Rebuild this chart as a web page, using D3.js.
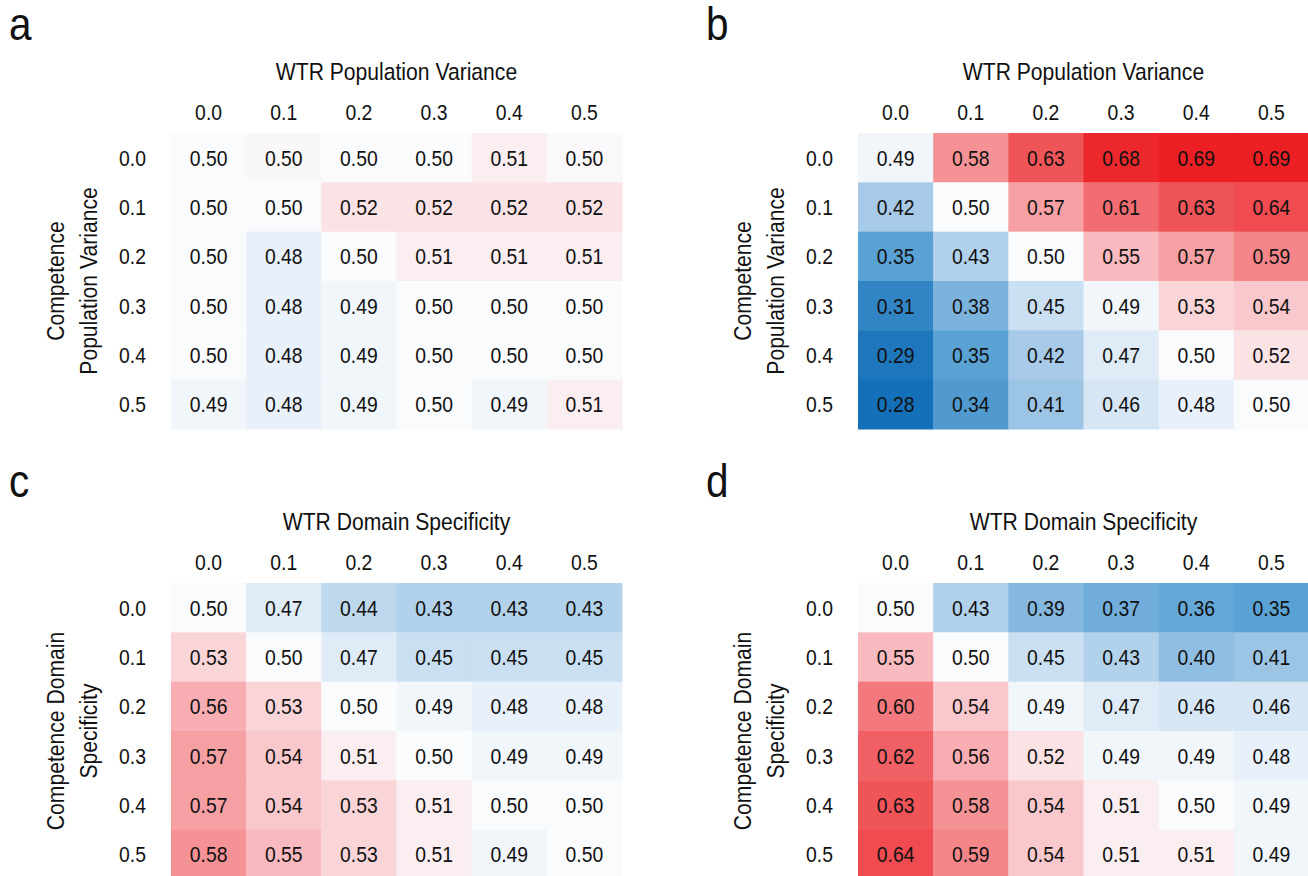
<!DOCTYPE html>
<html>
<head>
<meta charset="utf-8">
<script src="https://cdn.jsdelivr.net/npm/d3@7"></script>
<style>
  body { margin: 0; background: #fff; }
  svg text { font-family: "Liberation Sans", Arial, sans-serif; fill: #111; }
</style>
</head>
<body>
<svg id="chart" width="1308" height="876"></svg>
<script>
// tick labels shared by every panel
var levels = ["0.0", "0.1", "0.2", "0.3", "0.4", "0.5"];

// panel values, rows = competence level, cols = WTR level
var valsA = [
  [0.50, 0.503, 0.50, 0.50, 0.51, 0.502],
  [0.50, 0.50, 0.52, 0.52, 0.52, 0.52],
  [0.50, 0.48, 0.50, 0.51, 0.51, 0.51],
  [0.50, 0.48, 0.49, 0.50, 0.50, 0.50],
  [0.50, 0.48, 0.49, 0.50, 0.50, 0.50],
  [0.49, 0.48, 0.49, 0.50, 0.49, 0.51]
];
var valsB = [
  [0.49, 0.58, 0.63, 0.68, 0.69, 0.69],
  [0.42, 0.50, 0.57, 0.61, 0.63, 0.64],
  [0.35, 0.43, 0.50, 0.55, 0.57, 0.59],
  [0.31, 0.38, 0.45, 0.49, 0.53, 0.54],
  [0.29, 0.35, 0.42, 0.47, 0.50, 0.52],
  [0.28, 0.34, 0.41, 0.46, 0.48, 0.50]
];
var valsC = [
  [0.50, 0.47, 0.44, 0.43, 0.43, 0.43],
  [0.53, 0.50, 0.47, 0.45, 0.45, 0.45],
  [0.56, 0.53, 0.50, 0.49, 0.48, 0.48],
  [0.57, 0.54, 0.51, 0.50, 0.49, 0.49],
  [0.57, 0.54, 0.53, 0.51, 0.50, 0.50],
  [0.58, 0.55, 0.53, 0.51, 0.49, 0.50]
];
var valsD = [
  [0.50, 0.43, 0.39, 0.37, 0.36, 0.35],
  [0.55, 0.50, 0.45, 0.43, 0.40, 0.41],
  [0.60, 0.54, 0.49, 0.47, 0.46, 0.46],
  [0.62, 0.56, 0.52, 0.49, 0.49, 0.48],
  [0.63, 0.58, 0.54, 0.51, 0.50, 0.49],
  [0.64, 0.59, 0.54, 0.51, 0.51, 0.49]
];

var panelLetters = ["a", "b", "c", "d"];
var xTitles = ["WTR Population Variance", "WTR Population Variance", "WTR Domain Specificity", "WTR Domain Specificity"];
var yTitles = [
  ["Competence", "Population Variance"],
  ["Competence", "Population Variance"],
  ["Competence Domain", "Specificity"],
  ["Competence Domain", "Specificity"]
];
var allVals = [valsA, valsB, valsC, valsD];

// diverging colour map, white at 0.5
var color = d3.scaleLinear()
  .domain([0.28, 0.35, 0.42, 0.46, 0.50, 0.54, 0.58, 0.63, 0.69])
  .range(["#1470b9", "#5aa1d4", "#a6cae8", "#d6e6f4", "#fafbfd", "#f9c8cc", "#f59296", "#ef5459", "#ec1f24"])
  .clamp(true);

var svg = d3.select("#chart");
var fmt = d3.format(".2f");
var SX = 0.88; // fake a condensed face

// where each grid sits
var gridW = 451, gridH = 296;
var origins = [[171, 133], [858, 133], [171, 583], [858, 583]];
var letterPos = [[9, 40], [706, 40], [9, 497], [706, 497]];

// move x/y into a transform so the glyphs can be narrowed
function squeeze(sel, size) {
  sel.attr("font-size", size).each(function() {
    var t = d3.select(this);
    var x = +t.attr("x") || 0, y = +t.attr("y") || 0;
    t.attr("x", 0).attr("y", 0)
     .attr("transform", "translate(" + x + "," + y + ") scale(" + SX + ",1)");
  });
}

function drawPanel(i) {
  var ox = origins[i][0], oy = origins[i][1];
  var vals = allVals[i];
  var g = svg.append("g").attr("transform", "translate(" + ox + "," + oy + ")");

  var x = d3.scaleBand().domain(levels).range([0, gridW]);
  var y = d3.scaleBand().domain(levels).range([0, gridH]);

  var cells = [];
  vals.forEach(function(row, r) {
    row.forEach(function(v, c) { cells.push({r: levels[r], c: levels[c], v: v}); });
  });

  g.selectAll("rect.cell").data(cells).join("rect")
    .attr("class", "cell")
    .attr("x", function(d) { return x(d.c); })
    .attr("y", function(d) { return y(d.r); })
    .attr("width", x.bandwidth() + 0.5)
    .attr("height", y.bandwidth() + 0.5)
    .attr("fill", function(d) { return color(d.v); });

  g.selectAll("text.val").data(cells).join("text")
    .attr("class", "val")
    .attr("x", function(d) { return x(d.c) + x.bandwidth() / 2; })
    .attr("y", function(d) { return y(d.r) + y.bandwidth() / 2; })
    .attr("text-anchor", "middle")
    .attr("dy", "0.36em")
    .text(function(d) { return fmt(d.v); })
    .call(squeeze, 22);

  // column ticks on top
  var gx = g.append("g").attr("transform", "translate(0,-21)")
    .call(d3.axisTop(x).tickSize(0).tickPadding(0));
  gx.select(".domain").remove();
  gx.attr("font-family", null).attr("font-size", null);
  gx.selectAll("text").attr("dy", "0.36em").call(squeeze, 22);

  // row ticks on left
  var gy = g.append("g").call(d3.axisLeft(y).tickSize(0).tickPadding(25));
  gy.select(".domain").remove();
  gy.attr("font-family", null).attr("font-size", null);
  gy.selectAll("text").attr("dy", "0.36em").call(squeeze, 22);

  g.append("text")
    .attr("x", gridW / 2).attr("y", -62)
    .attr("text-anchor", "middle")
    .attr("dy", "0.36em")
    .text(xTitles[i])
    .call(squeeze, 24);

  var yt = g.append("text")
    .attr("transform", "translate(-107," + (gridH / 2) + ") rotate(-90) scale(" + SX + ",1)")
    .attr("text-anchor", "middle")
    .attr("font-size", 24);
  yt.append("tspan").attr("x", 0).attr("dy", 0).text(yTitles[i][0]);
  yt.append("tspan").attr("x", 0).attr("dy", "1.38em").text(yTitles[i][1]);

  svg.append("text")
    .attr("x", letterPos[i][0]).attr("y", letterPos[i][1])
    .text(panelLetters[i])
    .call(squeeze, 46);
}

for (var i = 0; i < 4; i++) drawPanel(i);
</script>
</body>
</html>
